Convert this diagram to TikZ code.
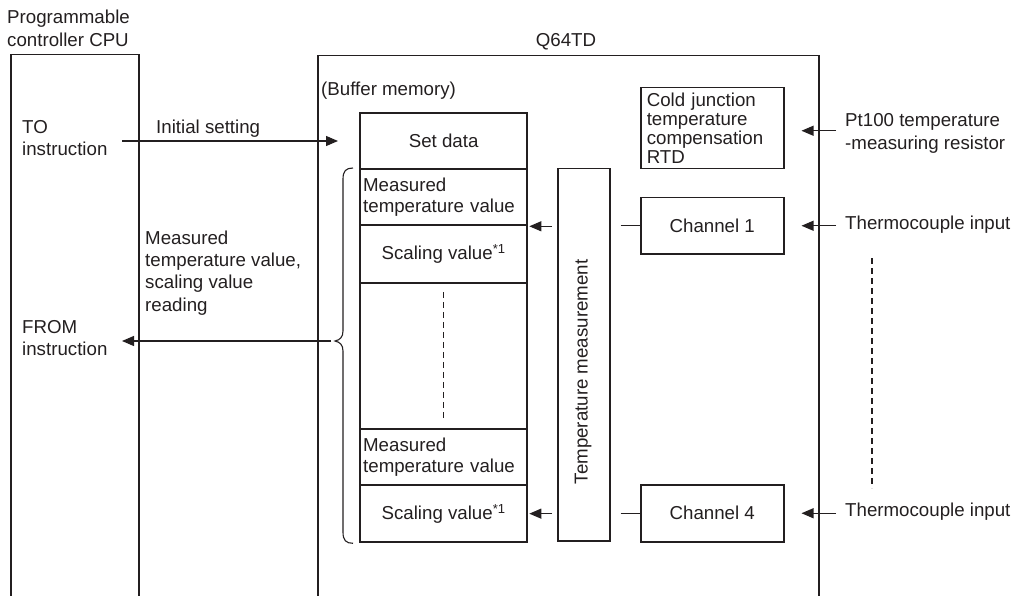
\documentclass[tikz,border=0pt]{standalone}
\usepackage{fontspec}
\setmainfont{Liberation Sans}
\usetikzlibrary{arrows.meta}
\definecolor{ink}{HTML}{231F20}
\begin{document}
\begin{tikzpicture}[x=1pt,y=-1pt,
  font=\fontsize{18.7}{21.5}\selectfont,
  every node/.style={text=ink},
  frame/.style={draw=ink, line width=1.5pt, inner sep=0, anchor=north west},
  cell/.style={draw=ink, line width=2.3pt, minimum width=167pt, inner sep=0, anchor=north west},
  lcell/.style={cell, text width=161pt, inner xsep=3pt, align=left},
  unit/.style={draw=ink, line width=1.5pt, minimum width=143pt, inner sep=0, anchor=north west},
  lbl/.style={inner sep=0, align=left, anchor=west},
  arr/.style={draw=ink, line width=1.1pt, -{Triangle[length=12pt,width=10pt]}},
  wire/.style={draw=ink, line width=1.1pt},
  dots/.style={draw=ink, line width=1.1pt, dash pattern=on 6pt off 4pt}
]
\path[use as bounding box, clip] (0,0) rectangle (1022,596);

% outer boxes
\node[frame, minimum width=128pt, minimum height=560pt] (cpu) at (10,54) {};
\node[frame, minimum width=501pt, minimum height=560pt] (q64) at (317,55) {};
\node[lbl, font=\fontsize{18.7}{23}\selectfont] (cpulbl) at (7,28) {Programmable\\controller CPU};
\node[inner sep=0, anchor=base] (q64lbl) at (566,47) {Q64TD};

% CPU texts
\node[lbl, font=\fontsize{18.7}{22.5}\selectfont] (to) at (22,138) {TO\\instruction};
\node[lbl, font=\fontsize{18.7}{22.5}\selectfont] (from) at (22,338) {FROM\\instruction};

% buffer memory
\node[inner sep=0, anchor=base west] (bmlbl) at (321,96) {(Buffer memory)};
\node[cell, minimum height=56pt] (setdata) at (359,112) {Set data};
\node[lcell, minimum height=56pt] (meas1) at (359,168) {Measured\\temperature value};
\node[cell, minimum height=58pt] (scal1) at (359,224) {Scaling value\textsuperscript{*1}};
\node[cell, minimum height=146pt] (gap) at (359,282) {};
\node[lcell, minimum height=56pt] (meas4) at (359,428) {Measured\\temperature value};
\node[cell, minimum height=57pt] (scal4) at (359,484) {Scaling value\textsuperscript{*1}};
\draw[dots] ([yshift=-10pt]gap.north) -- ([yshift=10pt]gap.south);

% temperature measurement
\node[frame, minimum width=52pt, minimum height=372pt] (tm) at (557,168) {};
\node[inner sep=0, rotate=90] (tmlbl) at (583,372) {Temperature measurement};

% units
\node[unit, minimum height=81pt, text width=131pt, inner xsep=6pt, align=left,
      font=\fontsize{18.7}{19}\selectfont] (cold) at (640,87)
  {Cold junction\\temperature\\compensation\\RTD};
\node[unit, minimum height=56pt] (ch1) at (640,197) {Channel 1};
\node[unit, minimum height=57pt] (ch4) at (640,484) {Channel 4};

% right-side inputs
\node[lbl, font=\fontsize{18.7}{23}\selectfont] (pt) at (845,133) {Pt100 temperature\\-measuring resistor};
\node[lbl] (tc1) at (845,225) {Thermocouple input};
\node[lbl] (tc4) at (845,512) {Thermocouple input};
\coordinate (dtop) at (872,258);
\coordinate (dbot) at (872,488);
\draw[dots] (dtop) -- (dbot);

\draw[arr] ([xshift=-9pt,yshift=-2.5pt]pt.west |- cold.east) -- ([xshift=17pt,yshift=-2.5pt]cold.east);
\draw[arr] ([xshift=-9pt]tc1.west |- ch1.east) -- ([xshift=17pt]ch1.east);
\draw[arr] ([xshift=-9pt]tc4.west |- ch4.east) -- ([xshift=17pt]ch4.east);

% channel -> temperature measurement
\draw[wire] ([xshift=10pt]tm.east |- ch1.west) -- (ch1.west);
\draw[wire] ([xshift=10pt]tm.east |- ch4.west) -- (ch4.west);

% temperature measurement -> buffer
\draw[arr] ([xshift=-5pt]tm.west |- meas1.south east) -- ([xshift=1pt]meas1.south east);
\draw[arr] ([xshift=-5pt]tm.west |- scal4.east) -- ([xshift=1pt]scal4.east);

% initial setting
\coordinate (tostart) at (122,141);
\coordinate (toend) at (338,141);
\draw[arr] (tostart) -- (toend);
\node[inner sep=0, anchor=base west] (initlbl) at (156,134) {Initial setting};

% brace and reading arrow
\draw[wire] ([xshift=-6pt]meas1.north west)
  .. controls ([xshift=-13pt]meas1.north west) and ([xshift=-16pt,yshift=-3pt]meas1.north west) .. ([xshift=-16pt,yshift=-11pt]meas1.north west)
  -- (343,331)
  .. controls (343,337) and (340,340) .. (335,341)
  .. controls (340,342) and (343,345) .. (343,351)
  -- ([xshift=-16pt,yshift=11pt]scal4.south west)
  .. controls ([xshift=-16pt,yshift=3pt]scal4.south west) and ([xshift=-13pt]scal4.south west) .. ([xshift=-6pt]scal4.south west);
\coordinate (bracetip) at (331,341);
\coordinate (fromend) at (122,341);
\draw[arr] (bracetip) -- (fromend);
\node[lbl, font=\fontsize{18.7}{22.3}\selectfont] (readlbl) at (145,273)
  {Measured\\temperature value,\\scaling value\\reading};
\end{tikzpicture}
\end{document}
